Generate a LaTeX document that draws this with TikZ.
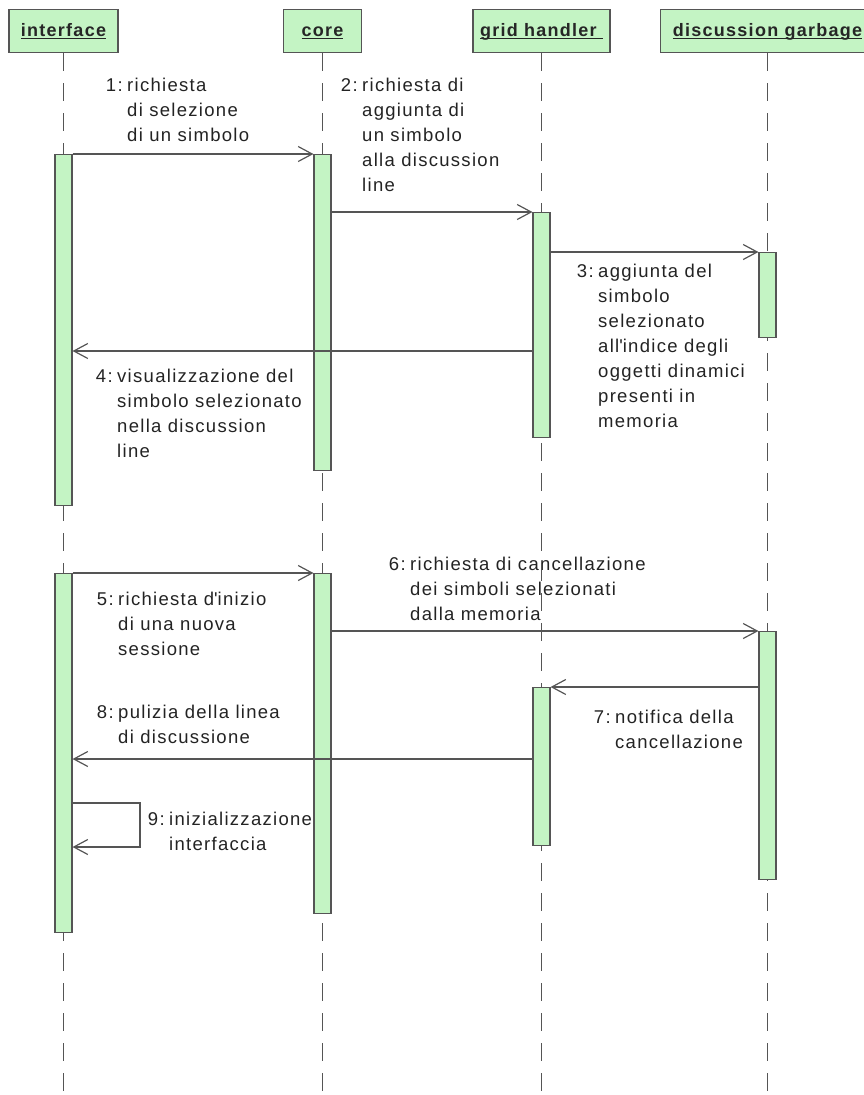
\documentclass[tikz,border=0pt]{standalone}
\usepackage{fontspec}
\setmainfont{Liberation Sans}[LetterSpace=7]
\usetikzlibrary{arrows.meta}

\definecolor{lifegreen}{RGB}{196,244,196}
\definecolor{edgegray}{RGB}{85,85,85}
\definecolor{inkgray}{RGB}{35,35,35}

\newcommand\lblfont{\fontsize{18.5}{25}\selectfont}
\newcommand\hdfont{\fontsize{18}{25}\selectfont\bfseries}
% underlined object name
\newcommand\ulname[1]{\sbox0{#1}\rlap{\rule[-2.5pt]{\wd0}{1.1pt}}\usebox0}
% numbered message text: number hangs left of the text column
\newcommand\msgrows[2]{\llap{#1\hspace{4.5pt}}\begin{tabular}[t]{@{}l@{}}#2\end{tabular}}

\tikzset{
  head/.style={draw=edgegray, fill=lifegreen, line width=1.2pt, inner sep=0pt,
    text height=27pt, text depth=16pt, anchor=north, font=\hdfont, text=black!85},
  bar/.style={draw=edgegray, fill=lifegreen, line width=1.1pt, inner sep=0pt,
    minimum width=17pt, anchor=north},
  life/.style={draw=edgegray, line width=1.1pt, dash pattern=on 18pt off 12pt},
  msg/.style={draw=edgegray, line width=1.2pt,
    -{Straight Barb[length=14pt,width=15pt,line width=1.2pt]}},
  lbl/.style={inner sep=0pt, anchor=base west, text=inkgray, font=\lblfont},
}

\begin{document}
\begin{tikzpicture}[x=1pt,y=-1pt]
\useasboundingbox (0,0) rectangle (864,1095);
\clip (0,0) rectangle (864,1095);
\coordinate (bottom) at (0,1095);

% object headers
\node[head, minimum width=109pt] (hInt)  at (63.5,9)  {\ulname{interface}};
\node[head, minimum width=78pt]  (hCore) at (322.5,9) {\ulname{core}};
\node[head, minimum width=137pt] (hGrid) at (541.5,9) {\ulname{grid handler\ }};
\node[head, minimum width=214pt] (hDisc) at (767.5,9) {\ulname{discussion garbage}};

% message texts
\node[lbl] (t1) at (127,91)  {\msgrows{1:}{richiesta\\di selezione\\di un simbolo}};
\node[lbl] (t2) at (362,91)  {\msgrows{2:}{richiesta di\\aggiunta di\\un simbolo\\alla discussion\\line}};
\node[lbl] (t3) at (598,277) {\msgrows{3:}{aggiunta del\\simbolo\\selezionato\\all\textquotesingle indice degli\\oggetti dinamici\\presenti in\\memoria}};
\node[lbl] (t4) at (117,382) {\msgrows{4:}{visualizzazione del\\simbolo selezionato\\nella discussion\\line}};
\node[lbl] (t5) at (118,605) {\msgrows{5:}{richiesta d\textquotesingle inizio\\di una nuova\\sessione}};
\node[lbl] (t6) at (410,570) {\msgrows{6:}{richiesta di cancellazione\\dei simboli selezionati\\dalla memoria}};
\node[lbl] (t7) at (615,723) {\msgrows{7:}{notifica della\\cancellazione}};
\node[lbl] (t8) at (118,718) {\msgrows{8:}{pulizia della linea\\di discussione}};
\node[lbl] (t9) at (169,825) {\msgrows{9:}{inizializzazione\\interfaccia}};

% lifelines
\foreach \h in {hInt,hCore,hGrid,hDisc}
  \draw[life] (\h.south) -- (\h.south |- bottom);

% activation bars
\node[bar, minimum height=351pt] (a1) at (63.5,154)  {};
\node[bar, minimum height=316pt] (a2) at (322.5,154) {};
\node[bar, minimum height=225pt] (a3) at (541.5,212) {};
\node[bar, minimum height=85pt]  (a4) at (767.5,252) {};
\node[bar, minimum height=359pt] (a5) at (63.5,573)  {};
\node[bar, minimum height=340pt] (a6) at (322.5,573) {};
\node[bar, minimum height=248pt] (a7) at (767.5,631) {};
\node[bar, minimum height=158pt] (a8) at (541.5,687) {};

% messages
\coordinate (r4) at (0,351);
\coordinate (r8) at (0,759);
\coordinate (s9a) at (140,803);
\coordinate (s9b) at (140,847);
\draw[msg] (a1.north east) -- (a2.north west);
\draw[msg] (a2.east |- a3.north) -- (a3.north west);
\draw[msg] (a3.east |- a4.north) -- (a4.north west);
\draw[msg] (a3.west |- r4) -- (a1.east |- r4);
\draw[msg] (a5.north east) -- (a6.north west);
\draw[msg] (a6.east |- a7.north) -- (a7.north west);
\draw[msg] (a7.west |- a8.north) -- (a8.north east);
\draw[msg] (a8.west |- r8) -- (a5.east |- r8);
\draw[msg] (a5.east |- s9a) -- (s9a) -- (s9b) -- (a5.east |- s9b);
\end{tikzpicture}
\end{document}
